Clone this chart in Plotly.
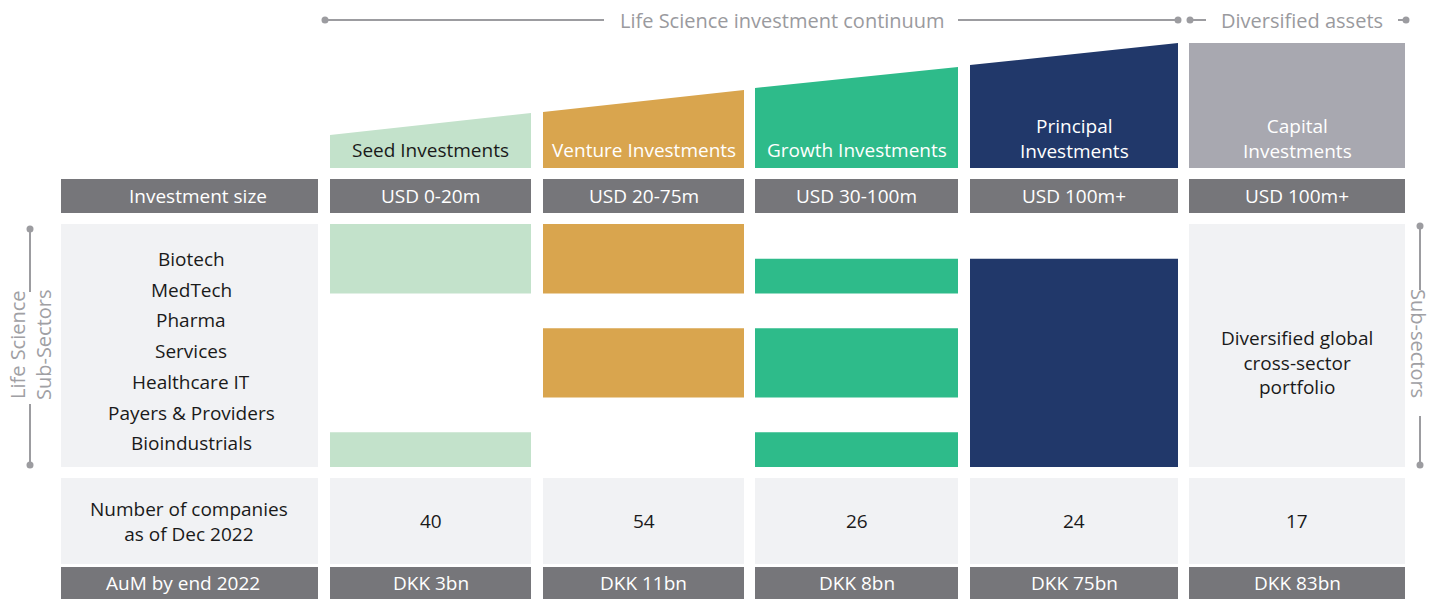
import plotly.graph_objects as go

# ---------------- data ----------------
strategies = ["Seed Investments", "Venture Investments", "Growth Investments",
              "Principal<br>Investments", "Capital<br>Investments"]
investment_size = ["USD 0-20m", "USD 20-75m", "USD 30-100m", "USD 100m+", "USD 100m+"]
sub_sectors = ["Biotech", "MedTech", "Pharma", "Services", "Healthcare IT",
               "Payers & Providers", "Bioindustrials"]
# coverage grid (7 bands) per life-science strategy
coverage = [
    [1, 1, 0, 0, 0, 0, 1],   # Seed
    [1, 1, 0, 1, 1, 0, 0],   # Venture
    [0, 1, 0, 1, 1, 0, 1],   # Growth
    [0, 1, 1, 1, 1, 1, 1],   # Principal
]
capital_text = "Diversified global<br>cross-sector<br>portfolio"
companies = [40, 54, 26, 24, 17]
aum = ["DKK 3bn", "DKK 11bn", "DKK 8bn", "DKK 75bn", "DKK 83bn"]
row_labels = ["Investment size", "Number of companies<br>as of Dec 2022", "AuM by end 2022"]
header_left = "Life Science investment continuum"
header_right = "Diversified assets"
side_left = "Life Science<br>Sub-Sectors"
side_right = "Sub-sectors"

# ---------------- layout / style ----------------
W, H = 1436, 599
FONT = "Open Sans"
FS = 19
colors = ["#C3E2CB", "#D9A54E", "#2EBB8A", "#21386A", "#A8A8B0"]
title_color = ["#1a1a1a", "#ffffff", "#ffffff", "#ffffff", "#ffffff"]
DARK = "#76767A"
LIGHT = "#F1F2F4"
LINE = "#9C9CA0"
TXT = "#1a1a1a"

col_l = [330, 543, 755, 970, 1189]
col_r = [531, 744, 958, 1178, 1405]
lab_l, lab_r = 61, 318
label_x = [198, 189, 183]   # text centres of the three row labels
sector_x = 191
# trapezoid top edges (left, right)
top_l = [135, 112, 88, 65, 43]
top_r = [113, 90, 67, 43, 43]
title_bottom = 168
size_top, size_bot = 179, 213
sec_top, sec_bot = 224, 467
comp_top, comp_bot = 478, 564
aum_top, aum_bot = 567, 599

fig = go.Figure()
shapes = []
ann = []

def rect(x0, y0, x1, y1, color):
    shapes.append(dict(type="rect", xref="x", yref="y", x0=x0, y0=y0, x1=x1, y1=y1,
                       fillcolor=color, line=dict(width=0), layer="below"))

def text(x, y, s, color=TXT, size=FS, angle=0):
    ann.append(dict(x=x, y=y, xref="x", yref="y", text=s, showarrow=False,
                    font=dict(family=FONT, size=size, color=color),
                    xanchor="center", yanchor="middle", textangle=angle))

# strategy headers
for i, name in enumerate(strategies):
    l, r = col_l[i], col_r[i]
    path = f"M {l},{top_l[i]} L {r},{top_r[i]} L {r},{title_bottom} L {l},{title_bottom} Z"
    shapes.append(dict(type="path", xref="x", yref="y", path=path,
                       fillcolor=colors[i], line=dict(width=0), layer="below"))
    ty = 150 if "<br>" not in name else 138.5
    text((l + r) / 2, ty, name, title_color[i])

# investment size row
rect(lab_l, size_top, lab_r, size_bot, DARK)
text(label_x[0], (size_top + size_bot) / 2, row_labels[0], "#ffffff")
for i, s in enumerate(investment_size):
    rect(col_l[i], size_top, col_r[i], size_bot, DARK)
    text((col_l[i] + col_r[i]) / 2, (size_top + size_bot) / 2, s, "#ffffff")

# sub-sector panel
rect(lab_l, sec_top, lab_r, sec_bot, LIGHT)
n = len(sub_sectors)
for k, s in enumerate(sub_sectors):
    text(sector_x, 259 + k * 30.7, s, TXT)

band = (sec_bot - sec_top) / n
for i, cov in enumerate(coverage):
    k = 0
    while k < n:
        if cov[k]:
            j = k
            while j + 1 < n and cov[j + 1]:
                j += 1
            rect(col_l[i], sec_top + k * band, col_r[i], sec_top + (j + 1) * band, colors[i])
            k = j + 1
        else:
            k += 1

rect(col_l[4], sec_top, col_r[4], sec_bot, LIGHT)
text((col_l[4] + col_r[4]) / 2, 362, capital_text, TXT)

# number of companies row
rect(lab_l, comp_top, lab_r, comp_bot, LIGHT)
text(label_x[1], (comp_top + comp_bot) / 2, row_labels[1], TXT)
for i, c in enumerate(companies):
    rect(col_l[i], comp_top, col_r[i], comp_bot, LIGHT)
    text((col_l[i] + col_r[i]) / 2, (comp_top + comp_bot) / 2, str(c), TXT)

# AuM row
rect(lab_l, aum_top, lab_r, aum_bot, DARK)
text(label_x[2], (aum_top + aum_bot) / 2, row_labels[2], "#ffffff")
for i, a in enumerate(aum):
    rect(col_l[i], aum_top, col_r[i], aum_bot, DARK)
    text((col_l[i] + col_r[i]) / 2, (aum_top + aum_bot) / 2, a, "#ffffff")

# header brackets
def hline(x0, x1, y):
    shapes.append(dict(type="line", xref="x", yref="y", x0=x0, x1=x1, y0=y, y1=y,
                       line=dict(color=LINE, width=2)))

def vline(x, y0, y1):
    shapes.append(dict(type="line", xref="x", yref="y", x0=x, x1=x, y0=y0, y1=y1,
                       line=dict(color=LINE, width=2)))

hline(325, 604, 20)
hline(958, 1177, 20)
hline(1190, 1206, 20)
hline(1398, 1406, 20)
text(782, 20, header_left, "#9A9A9E", 20)
text(1302, 20, header_right, "#9A9A9E", 20)

# side brackets
vline(30, 229, 292)
vline(30, 404, 465)
vline(1420, 226, 290)
vline(1420, 416, 465)
text(30, 345, side_left, "#A0A0A4", 20, -90)
text(1419, 343, side_right, "#A0A0A4", 20, 90)

dots_x = [325, 1178, 1190, 1406, 30, 30, 1420, 1420]
dots_y = [20, 20, 20, 20, 229, 465, 226, 465]
fig.add_trace(go.Scatter(x=dots_x, y=dots_y, mode="markers",
                         marker=dict(color=LINE, size=7), hoverinfo="skip",
                         showlegend=False))

fig.update_layout(
    width=W, height=H, margin=dict(l=0, r=0, t=0, b=0),
    paper_bgcolor="white", plot_bgcolor="white",
    shapes=shapes, annotations=ann, showlegend=False,
    xaxis=dict(range=[0, W], visible=False, fixedrange=True),
    yaxis=dict(range=[H, 0], visible=False, fixedrange=True),
)
fig.write_html("out.html", config={"displayModeBar": False},
               post_script="document.body.style.margin='0';document.body.style.overflow='hidden';")
